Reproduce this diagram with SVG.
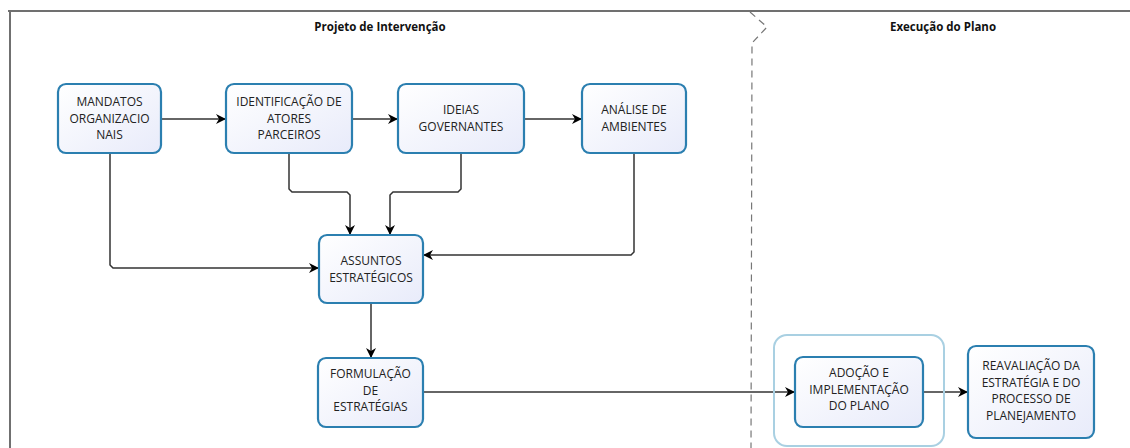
<svg xmlns="http://www.w3.org/2000/svg" width="1130" height="448" viewBox="0 0 1130 448">
<defs>
<linearGradient id="g" x1="0" y1="0" x2="1" y2="1">
<stop offset="0" stop-color="#ffffff"/>
<stop offset="1" stop-color="#e8ebfa"/>
</linearGradient>
<marker id="ah" viewBox="0 0 10 10" refX="10" refY="5" markerWidth="10" markerHeight="10" markerUnits="userSpaceOnUse" orient="auto">
<path d="M0,0 L10,5 L0,10 L3,5 Z" fill="#000"/>
</marker>
<style>
.box{fill:url(#g);stroke:#2b7fb0;stroke-width:2.2}
.t{font-family:"Open Sans","Noto Sans","DejaVu Sans",sans-serif;font-size:12px;fill:#222;text-anchor:middle}
.h{font-family:"Open Sans","Noto Sans","DejaVu Sans",sans-serif;font-size:11.5px;font-weight:bold;fill:#111;text-anchor:middle}
.c{fill:none;stroke:#333;stroke-width:1.5;marker-end:url(#ah)}
</style>
</defs>
<rect width="1130" height="448" fill="#fff"/>
<g id="frame">
<line x1="8" y1="11" x2="1130" y2="11" stroke="#707070" stroke-width="2"/>
<line x1="10" y1="10" x2="10" y2="448" stroke="#707070" stroke-width="2"/>
<path d="M750,12 L767,27 L752,43 L751,448" fill="none" stroke="#777" stroke-width="1.2" stroke-dasharray="7,5"/>
<text class="h" x="380" y="31">Projeto de Intervenção</text>
<text class="h" x="943" y="31">Execução do Plano</text>
</g>
<g id="connectors">
<line class="c" x1="161" y1="119" x2="226" y2="119"/>
<line class="c" x1="352" y1="119" x2="398" y2="119"/>
<line class="c" x1="524" y1="119" x2="582" y2="119"/>
<path class="c" d="M110,153 L110,265 L113,268 L319,268"/>
<path class="c" d="M289,153 L289,189 L292,192 L347,192 L350,195 L350,235"/>
<path class="c" d="M461,153 L461,189 L458,192 L393,192 L390,195 L390,235"/>
<path class="c" d="M634,153 L634,252 L631,255 L423,255"/>
<line class="c" x1="371" y1="303" x2="371" y2="358"/>
<line class="c" x1="423" y1="392" x2="795" y2="392"/>
<line class="c" x1="923" y1="392" x2="968" y2="392"/>
</g>
<g id="n1"><rect class="box" x="58" y="84" width="103" height="69" rx="8"/>
<text class="t" x="109.5" y="106">MANDATOS</text><text class="t" x="109.5" y="122.5">ORGANIZACIO</text><text class="t" x="109.5" y="139">NAIS</text></g>
<g id="n2"><rect class="box" x="226" y="84" width="126" height="69" rx="8"/>
<text class="t" x="289" y="106">IDENTIFICAÇÃO DE</text><text class="t" x="289" y="122.5">ATORES</text><text class="t" x="289" y="139">PARCEIROS</text></g>
<g id="n3"><rect class="box" x="398" y="84" width="126" height="69" rx="8"/>
<text class="t" x="461" y="114">IDEIAS</text><text class="t" x="461" y="130.5">GOVERNANTES</text></g>
<g id="n4"><rect class="box" x="582" y="84" width="104" height="69" rx="8"/>
<text class="t" x="634" y="114">ANÁLISE DE</text><text class="t" x="634" y="130.5">AMBIENTES</text></g>
<g id="n5"><rect class="box" x="319" y="235" width="104" height="68" rx="8"/>
<text class="t" x="371" y="265">ASSUNTOS</text><text class="t" x="371" y="281.5">ESTRATÉGICOS</text></g>
<g id="n6"><rect class="box" x="318" y="358" width="105" height="69" rx="8"/>
<text class="t" x="370.5" y="378">FORMULAÇÃO</text><text class="t" x="370.5" y="394.5">DE</text><text class="t" x="370.5" y="411">ESTRATÉGIAS</text></g>
<g id="n7"><rect x="774" y="335" width="170" height="111" rx="13" fill="none" stroke="#a9d0e2" stroke-width="2"/>
<rect class="box" x="795" y="357" width="128" height="70" rx="8"/>
<text class="t" x="859" y="377">ADOÇÃO E</text><text class="t" x="859" y="393.5">IMPLEMENTAÇÃO</text><text class="t" x="859" y="410">DO PLANO</text></g>
<g id="n8"><rect class="box" x="968" y="346" width="126" height="92" rx="8"/>
<text class="t" x="1031" y="370">REAVALIAÇÃO DA</text><text class="t" x="1031" y="386.5">ESTRATÉGIA E DO</text><text class="t" x="1031" y="403">PROCESSO DE</text><text class="t" x="1031" y="419.5">PLANEJAMENTO</text></g>
</svg>
